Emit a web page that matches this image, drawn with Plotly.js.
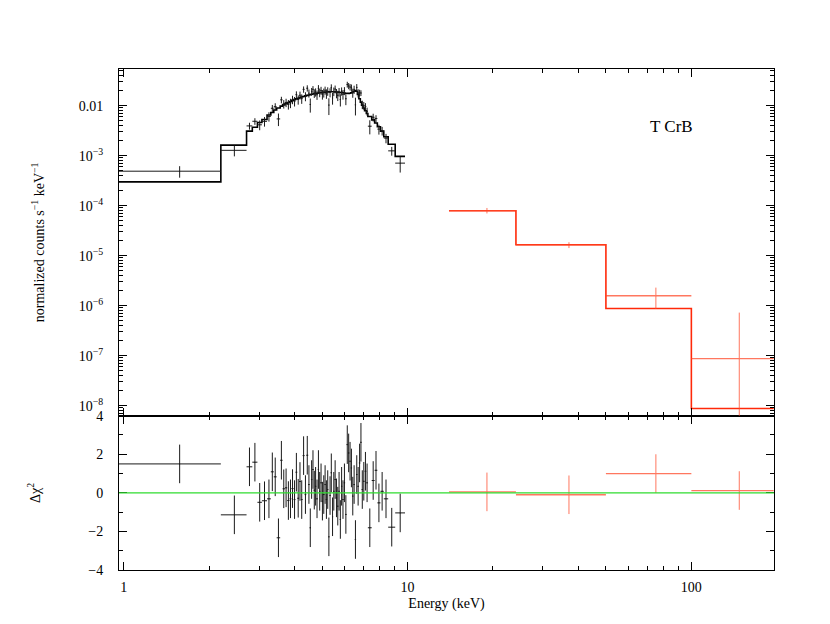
<!DOCTYPE html>
<html>
<head>
<meta charset="utf-8">
<script src="https://cdn.plot.ly/plotly-3.0.1.min.js"></script>
<style>html,body{margin:0;padding:0;background:#fff;}#chart{width:830px;height:624px;}</style>
</head>
<body>
<div id="chart"></div>
<script>
// ---- Data (XSPEC unfolded spectrum of T CrB) ----
// Black (soft X-ray) spectrum: bin edges in keV
const blackEdges = [0.95, 2.2, 2.71, 2.84, 2.96, 3.07, 3.20, 3.30, 3.38, 3.46, 3.56,
  3.63, 3.70, 3.77, 3.84, 3.90, 3.97, 4.03, 4.09, 4.15, 4.21,
  4.27, 4.34, 4.40, 4.47, 4.52, 4.57, 4.62, 4.67, 4.72, 4.77,
  4.83, 4.88, 4.93, 4.99, 5.04, 5.10, 5.15, 5.21, 5.26, 5.31,
  5.36, 5.42, 5.47, 5.53, 5.59, 5.65, 5.71, 5.77, 5.83, 5.89,
  5.96, 6.03, 6.10, 6.17, 6.24, 6.31, 6.38, 6.45, 6.52, 6.59,
  6.66, 6.74, 6.82, 6.89, 6.97, 7.06, 7.16, 7.25, 7.48, 7.66,
  7.83, 8.03, 8.25, 8.55, 9.05, 9.80];
// model (counts s^-1 keV^-1) per bin
const blackModel = [3.0e-4, 1.63e-3, 3.1e-3, 3.7e-3, 4.6e-3, 5.3e-3, 6.5e-3, 7.3e-3, 8.2e-3, 9.0e-3,
  9.8e-3, 0.0104, 0.0110, 0.0116, 0.0121, 0.0127, 0.0132, 0.0137, 0.0141, 0.0145,
  0.0149, 0.0153, 0.0157, 0.0161, 0.0164, 0.0166, 0.0169, 0.0171, 0.0173, 0.0175,
  0.0177, 0.0179, 0.0181, 0.0183, 0.0185, 0.0186, 0.0187, 0.0188, 0.0189, 0.0189,
  0.0190, 0.0190, 0.0190, 0.0190, 0.0189, 0.0188, 0.0187, 0.0186, 0.0184, 0.0183,
  0.0181, 0.0180, 0.0178, 0.0177, 0.0176, 0.0178, 0.0182, 0.0188, 0.0195, 0.0202,
  0.0195, 0.0168, 0.0138, 0.0118, 0.0102, 0.0090, 0.0079, 0.0070, 0.0061, 0.0052,
  0.0045, 0.0038, 0.0031, 0.0024, 0.00170, 0.00097];
// data (counts s^-1 keV^-1) per bin
const blackFlux = [4.9e-4, 1.28e-3, 3.94e-3, 4.88e-3, 4.15e-3, 4.87e-3, 6.10e-3, 8.89e-3, 9.56e-3, 5.44e-3,
  0.01311, 0.01084, 0.01157, 0.01067, 0.01135, 0.01326, 0.01228, 0.01663, 0.01331, 0.01621,
  0.01386, 0.02121, 0.01542, 0.02238, 0.01781, 0.01059, 0.01923, 0.02124, 0.01778, 0.01869,
  0.0166, 0.02223, 0.01839, 0.0202, 0.01691, 0.01827, 0.02031, 0.01748, 0.01954, 0.01028,
  0.01847, 0.02295, 0.01429, 0.0193, 0.02151, 0.01782, 0.01612, 0.0189, 0.01332, 0.01954,
  0.01683, 0.01987, 0.01381, 0.02655, 0.02489, 0.02364, 0.0229, 0.01816, 0.02118, 0.01042,
  0.0232, 0.01794, 0.01808, 0.01798, 0.01055, 0.01008, 0.00967, 0.00773, 0.00389, 0.00587,
  0.00555, 0.0034, 0.00315, 0.00225, 0.00125, 0.00071];
const blackFluxErr = [1.27e-4, 3.1e-4, 6.2e-4, 7.4e-4, 9.2e-4, 1.06e-3, 1.3e-3, 1.46e-3, 1.64e-3, 1.53e-3,
  1.96e-3, 2.08e-3, 2.2e-3, 2.32e-3, 2.42e-3, 2.54e-3, 2.64e-3, 2.74e-3, 2.82e-3, 2.9e-3,
  2.98e-3, 3.06e-3, 3.14e-3, 3.22e-3, 3.28e-3, 3.32e-3, 3.38e-3, 3.42e-3, 3.46e-3, 3.5e-3,
  3.54e-3, 3.58e-3, 3.62e-3, 3.66e-3, 3.7e-3, 3.72e-3, 3.74e-3, 3.76e-3, 3.78e-3, 3.78e-3,
  3.8e-3, 3.8e-3, 3.8e-3, 3.8e-3, 3.78e-3, 3.76e-3, 3.74e-3, 3.72e-3, 3.68e-3, 3.66e-3,
  3.62e-3, 3.6e-3, 3.56e-3, 3.54e-3, 3.52e-3, 3.56e-3, 3.64e-3, 3.76e-3, 3.9e-3, 4.04e-3,
  3.9e-3, 3.36e-3, 2.76e-3, 2.36e-3, 2.04e-3, 1.8e-3, 1.58e-3, 1.4e-3, 1.22e-3, 1.04e-3,
  9.0e-4, 7.6e-4, 6.2e-4, 4.8e-4, 2.5e-4, 2.5e-4];
// residuals (delta chi, in sigma)
const blackResid = [1.5, -1.14, 1.35, 1.59, -0.49, -0.41, -0.31, 1.09, 0.83, -2.33,
  1.69, 0.21, 0.26, -0.40, -0.31, 0.22, -0.35, 1.07, -0.28, 0.59,
  -0.35, 1.93, -0.09, 1.95, 0.43, -1.81, 0.69, 1.21, 0.14, 0.34,
  -0.31, 1.21, 0.08, 0.52, -0.43, -0.09, 0.43, -0.35, 0.17, -2.28,
  -0.14, 1.04, -1.24, 0.08, 0.69, -0.26, -0.69, 0.08, -1.38, 0.34,
  -0.35, 0.52, -1.12, 2.50, 2.07, 1.64, 1.29, -0.17, 0.43, -2.42,
  0.95, 0.34, 1.55, 2.62, 0.17, 0.60, 1.12, 0.52, -1.81, 0.64,
  1.17, -0.52, 0.08, -0.31, -1.78, -1.04];

// Red (hard X-ray) spectrum
const redEdges = [14.0, 24.1, 50, 100, 195];
const redModel = [7.9e-5, 1.66e-5, 8.8e-7, 8.8e-9];
const redFlux = [8.0e-5, 1.64e-5, 1.58e-6, 8.7e-8];
const redFluxErr = [1.0e-5, 2.2e-6, 7.2e-7, 6.4e-7];
const redResid = [0.05, -0.1, 1.0, 0.12];

// Tick labels
const yTopTickVals = [1e-8, 1e-7, 1e-6, 1e-5, 1e-4, 1e-3, 0.01];
const yTopTickText = ['10<sup>\u22128</sup>', '10<sup>\u22127</sup>', '10<sup>\u22126</sup>', '10<sup>\u22125</sup>', '10<sup>\u22124</sup>', '10<sup>\u22123</sup>', '0.01'];
const xTickVals = [1, 10, 100];
const xTickText = ['1', '10', '100'];
const yResTickVals = [-4, -2, 0, 2, 4];
const yResTickText = ['\u22124', '\u22122', '0', '2', '4'];

// ---- helpers (structure only) ----
function centers(edges) { const c = []; for (let i = 0; i < edges.length - 1; i++) c.push((edges[i] + edges[i + 1]) / 2); return c; }
function halfWidths(edges) { const h = []; for (let i = 0; i < edges.length - 1; i++) h.push((edges[i + 1] - edges[i]) / 2); return h; }
function stepY(vals) { return vals.concat([vals[vals.length - 1]]); }
function logMinors(lo, hi) { const m = []; for (let d = lo; d <= hi; d++) for (let k = 2; k <= 9; k++) m.push(k * Math.pow(10, d)); return m; }

const BLACK = '#000000', BLACKDATA = '#1a1a1a', RED = '#ff2a0a', REDDATA = '#ff4a2a', GREEN = '#2fdc2f';
const FONT = '"Liberation Serif", "Times New Roman", serif';

const traces = [
  { x: blackEdges, y: stepY(blackModel), xaxis: 'x2', yaxis: 'y', mode: 'lines', line: { shape: 'hv', color: BLACK, width: 1.6 }, hoverinfo: 'skip', showlegend: false },
  { x: centers(blackEdges), y: blackFlux, xaxis: 'x2', yaxis: 'y', mode: 'markers', marker: { size: 1, color: BLACKDATA },
    error_y: { type: 'data', array: blackFluxErr, color: BLACKDATA, thickness: 1, width: 0 },
    error_x: { type: 'data', array: halfWidths(blackEdges), color: BLACKDATA, thickness: 1, width: 0 }, showlegend: false },
  { x: redEdges, y: stepY(redModel), xaxis: 'x2', yaxis: 'y', mode: 'lines', line: { shape: 'hv', color: RED, width: 1.6 }, hoverinfo: 'skip', showlegend: false },
  { x: centers(redEdges), y: redFlux, xaxis: 'x2', yaxis: 'y', mode: 'markers', marker: { size: 1, color: REDDATA }, opacity: 0.75,
    error_y: { type: 'data', array: redFluxErr, color: REDDATA, thickness: 1, width: 0 },
    error_x: { type: 'data', array: halfWidths(redEdges), color: REDDATA, thickness: 1.3, width: 0 }, showlegend: false },
  { x: centers(blackEdges), y: blackResid, xaxis: 'x', yaxis: 'y2', mode: 'markers', marker: { size: 1, color: BLACKDATA },
    error_y: { type: 'constant', value: 1, color: BLACKDATA, thickness: 1, width: 0 },
    error_x: { type: 'data', array: halfWidths(blackEdges), color: BLACKDATA, thickness: 1, width: 0 }, showlegend: false },
  { x: centers(redEdges), y: redResid, xaxis: 'x', yaxis: 'y2', mode: 'markers', marker: { size: 1, color: REDDATA }, opacity: 0.75,
    error_y: { type: 'constant', value: 1, color: REDDATA, thickness: 1, width: 0 },
    error_x: { type: 'data', array: halfWidths(redEdges), color: REDDATA, thickness: 1.3, width: 0 }, showlegend: false }
];

const axisCommon = { showgrid: false, zeroline: false, showline: true, linecolor: '#000', linewidth: 1,
  ticks: 'inside', ticklen: 8, tickwidth: 1, tickcolor: '#000', mirror: 'ticks',
  tickfont: { family: FONT, size: 14, color: '#000' } };

const xRange = [Math.log10(0.963), Math.log10(195.5)];

const layout = {
  width: 830, height: 624,
  margin: { l: 119, r: 56, t: 69, b: 54 },
  paper_bgcolor: '#fff', plot_bgcolor: '#fff',
  font: { family: FONT, size: 14, color: '#000' },
  showlegend: false,
  xaxis: Object.assign({}, axisCommon, {
    type: 'log', range: xRange, anchor: 'y2', domain: [0, 1],
    tickmode: 'array', tickvals: xTickVals, ticktext: xTickText, ticklabelstandoff: 4,
    minor: { tickmode: 'array', tickvals: logMinors(0, 2), ticks: 'inside', ticklen: 4, tickcolor: '#000', tickwidth: 1 },
    title: { text: 'Energy (keV)', font: { family: FONT, size: 14 }, standoff: 4 }
  }),
  xaxis2: Object.assign({}, axisCommon, {
    type: 'log', range: xRange, anchor: 'y', matches: 'x', showticklabels: false,
    tickmode: 'array', tickvals: xTickVals,
    minor: { tickmode: 'array', tickvals: logMinors(0, 2), ticks: 'inside', ticklen: 4, tickcolor: '#000', tickwidth: 1 }
  }),
  yaxis: Object.assign({}, axisCommon, {
    type: 'log', range: [-8.2, -1.266], domain: [0.308, 1], anchor: 'x2',
    tickmode: 'array', tickvals: yTopTickVals, ticktext: yTopTickText, ticklabelstandoff: 12,
    minor: { tickmode: 'array', tickvals: logMinors(-9, -2), ticks: 'inside', ticklen: 4, tickcolor: '#000', tickwidth: 1 },
    title: { text: 'normalized counts s<sup>\u22121</sup> keV<sup>\u22121</sup>', font: { family: FONT, size: 14 }, standoff: 30 }
  }),
  yaxis2: Object.assign({}, axisCommon, {
    range: [-4, 4], domain: [0, 0.308], anchor: 'x',
    tickmode: 'array', tickvals: yResTickVals, ticktext: yResTickText, ticklabelstandoff: 12,
    minor: { dtick: 1, tick0: 0, ticks: 'inside', ticklen: 4, tickcolor: '#000', tickwidth: 1 },
    title: { text: '\u0394\u03c7<sup>2</sup>', font: { family: FONT, size: 14 }, standoff: 44 }
  }),
  shapes: [
    { type: 'line', xref: 'x domain', yref: 'y2', x0: 0, x1: 1, y0: 0, y1: 0, line: { color: GREEN, width: 1.2 }, layer: 'above' }
  ],
  annotations: [
    { xref: 'paper', yref: 'paper', x: 0.879, y: 0.908, text: 'T CrB', showarrow: false, font: { family: FONT, size: 17, color: '#000' } }
  ]
};

Plotly.newPlot('chart', traces, layout, { displayModeBar: false, staticPlot: true });
</script>
</body>
</html>
